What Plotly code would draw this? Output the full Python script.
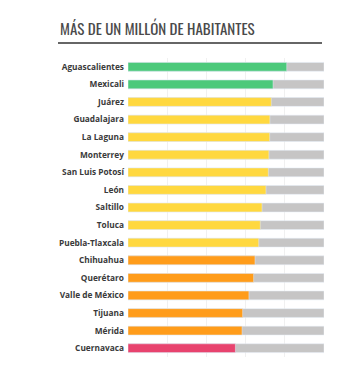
import plotly.graph_objects as go

ciudades = ["Aguascalientes", "Mexicali", "Juárez", "Guadalajara", "La Laguna",
            "Monterrey", "San Luis Potosí", "León", "Saltillo", "Toluca",
            "Puebla-Tlaxcala", "Chihuahua", "Querétaro", "Valle de México",
            "Tijuana", "Mérida", "Cuernavaca"]
valores = [81.0, 74.0, 73.1, 72.4, 72.3, 71.9, 71.6, 70.4, 68.4, 67.5,
           66.7, 64.8, 64.1, 61.7, 58.5, 58.2, 54.8]
grupos = ["verde", "verde", "amarillo", "amarillo", "amarillo", "amarillo",
          "amarillo", "amarillo", "amarillo", "amarillo", "amarillo",
          "naranja", "naranja", "naranja", "naranja", "naranja", "rosa"]
maximo = [100] * len(ciudades)
titulo = "MÁS DE UN MILLÓN DE HABITANTES"

paleta = {"verde": "#4CC97B", "amarillo": "#FFD83F", "naranja": "#FF9C1A", "rosa": "#E8436E"}
colores = [paleta[g] for g in grupos]

fig = go.Figure()
fig.add_trace(go.Bar(y=ciudades, x=maximo, orientation="h", marker_color="#C6C5C5",
                     width=0.5, hoverinfo="skip"))
fig.add_trace(go.Bar(y=ciudades, x=valores, orientation="h", marker_color=colores,
                     width=0.5))

fig.update_layout(
    width=350, height=369, barmode="overlay", showlegend=False,
    paper_bgcolor="white", plot_bgcolor="white",
    margin=dict(l=120, r=34, t=50, b=20, autoexpand=False),
    xaxis=dict(range=[0, 100], dtick=20, showgrid=True, gridcolor="#F0F0F0",
               gridwidth=1, showticklabels=False, zeroline=False, automargin=False),
    yaxis=dict(autorange="reversed", showgrid=False, ticklabelstandoff=3, automargin=False,
               tickfont=dict(family="Open Sans", size=8.3, color="#3A3A3A", weight="bold")),
)
fig.add_annotation(text=titulo, xref="paper", yref="paper", x=-70/196, y=1 + 17/299,
                   xanchor="left", yanchor="bottom", showarrow=False,
                   font=dict(family="Oswald, 'Liberation Sans Narrow', 'DejaVu Sans Condensed', Roboto",
                             size=15, color="#4A4A4A"))
fig.add_shape(type="line", xref="paper", yref="paper", x0=-70/196, x1=1 - 2/196,
              y0=1 + 15/299, y1=1 + 15/299, line=dict(color="#666666", width=2))
fig.write_html("out.html")
